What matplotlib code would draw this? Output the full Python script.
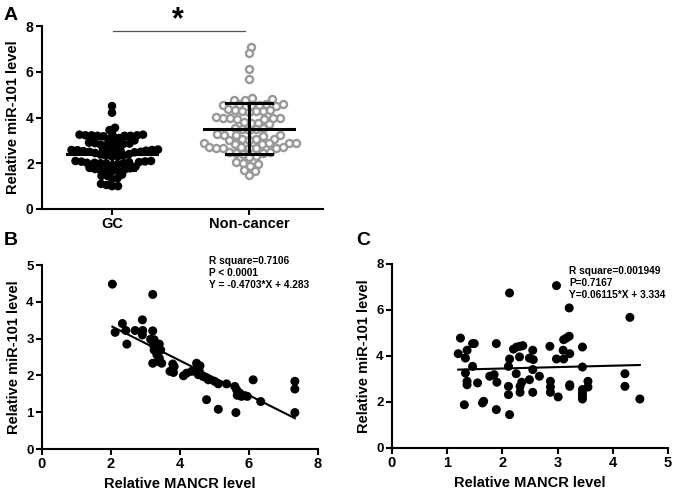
import numpy as np
import matplotlib
matplotlib.use("Agg")
import matplotlib.pyplot as plt

plt.rcParams['font.family'] = ['Liberation Sans', 'DejaVu Sans']
plt.rcParams['font.weight'] = 'bold'
plt.rcParams['axes.labelweight'] = 'bold'

# ---------------- Data ----------------
groups = ["GC", "Non-cancer"]
gc_values = [4.50, 4.21, 3.55, 3.45,
             3.25, 3.22, 3.20, 3.22, 3.25, 3.20, 3.22, 3.18, 3.24, 3.20,
             3.10, 3.05, 3.00, 2.98,
             2.90, 2.85, 2.82, 2.88, 2.75, 2.78, 2.86, 2.80,
             2.60, 2.58, 2.55, 2.52, 2.50, 2.55, 2.57, 2.48, 2.45, 2.50, 2.53, 2.56, 2.60, 2.58,
             2.40, 2.35, 2.30, 2.38, 2.33, 2.30,
             2.10, 2.08, 2.05, 2.02, 2.00, 1.98, 2.00, 2.05, 2.10, 2.07, 2.02, 1.96,
             1.90, 1.85, 1.80, 1.75, 1.72, 1.70, 1.68, 1.65, 1.70, 1.78,
             1.50, 1.45, 1.45, 1.35, 1.30,
             1.10, 1.05, 1.00, 1.00]
nc_values = [7.10, 6.80, 6.10, 5.70,
             4.85, 4.80, 4.78, 4.75,
             4.60, 4.55, 4.58, 4.55, 4.60, 4.52, 4.56,
             4.35, 4.30, 4.32, 4.28, 4.30, 4.25, 4.33,
             4.00, 3.98, 3.95, 4.00, 3.95, 3.98, 4.02,
             3.80, 3.75, 3.72, 3.78,
             3.55, 3.50, 3.48, 3.52, 3.45,
             3.28, 3.25, 3.22, 3.25, 3.20,
             3.05, 3.00, 3.08, 3.02, 3.05,
             2.90, 2.88, 2.85, 2.90, 2.88, 2.86,
             2.70, 2.68, 2.65, 2.70, 2.68, 2.66, 2.72, 2.65,
             2.48, 2.45, 2.42, 2.45, 2.48,
             2.30, 2.28,
             2.05, 2.00, 1.95, 1.90,
             1.70, 1.68,
             1.48]

b_x = [2.04, 3.21, 2.12, 2.33, 2.43, 2.46, 2.70, 2.91, 2.92, 2.91, 3.15, 3.21, 3.25, 3.23, 3.25,
       3.21, 3.33, 3.40, 3.44, 3.40, 3.47, 3.37, 3.71, 3.79, 3.83, 3.81, 4.10, 4.19, 4.34, 4.48,
       4.53, 4.56, 4.58, 4.53, 4.67, 4.77, 4.82, 4.77, 5.00, 5.11, 5.11, 5.35, 5.59, 5.64, 5.66,
       5.62, 5.73, 5.78, 5.88, 5.95, 6.12, 6.34, 7.33, 7.33, 7.33]
b_y = [4.48, 4.20, 3.17, 3.41, 3.22, 2.85, 3.22, 3.51, 3.22, 3.10, 2.98, 3.21, 2.97, 2.83, 2.69,
       2.33, 2.56, 2.85, 2.69, 2.47, 2.33, 2.38, 2.11, 2.31, 2.24, 2.08, 1.99, 2.06, 2.11, 2.33,
       2.19, 2.11, 2.26, 2.02, 1.97, 1.93, 1.88, 1.34, 1.84, 1.77, 1.08, 1.77, 1.70, 1.61, 1.46,
       0.99, 1.52, 1.43, 1.45, 1.43, 1.88, 1.29, 1.84, 1.63, 0.99]
b_fit = (-0.4703, 4.283)
b_text = "R square=0.7106\nP < 0.0001\nY = -0.4703*X + 4.283"

c_x = [1.20, 1.24, 1.33, 1.36, 1.33, 1.36, 1.36, 1.31, 1.46, 1.49, 1.46, 1.55, 1.64, 1.66, 1.77,
       1.85, 1.89, 1.90, 1.89, 2.13, 2.13, 2.11, 2.11, 2.11, 2.13, 2.20, 2.26, 2.25, 2.32, 2.37,
       2.31, 2.32, 2.35, 2.32, 2.49, 2.49, 2.55, 2.56, 2.55, 2.55, 2.67, 2.86, 2.87, 2.87, 2.87,
       2.98, 2.98, 3.01, 3.10, 3.11, 3.11, 3.16, 3.21, 3.21, 3.22, 3.22, 3.22, 3.45, 3.45, 3.45,
       3.45, 3.45, 3.45, 3.55, 3.55, 4.22, 4.22, 4.31, 4.49]
c_y = [4.10, 4.78, 3.91, 4.25, 3.26, 2.90, 2.75, 1.88, 4.54, 4.54, 3.55, 2.83, 1.96, 2.03, 3.12,
       3.19, 4.54, 2.86, 1.67, 6.74, 3.87, 3.55, 2.68, 2.32, 1.45, 4.30, 4.39, 3.23, 4.42, 4.45,
       3.96, 2.68, 2.86, 2.42, 2.97, 3.91, 4.25, 3.84, 3.41, 2.42, 3.12, 4.42, 2.90, 2.65, 2.42,
       7.06, 3.87, 2.22, 4.25, 4.71, 3.87, 4.78, 4.86, 6.09, 4.10, 2.75, 2.68, 4.39, 3.52, 2.54,
       2.39, 2.25, 2.13, 2.90, 2.65, 3.23, 2.68, 5.68, 2.13]
c_fit = (0.06115, 3.334)
c_text = "R square=0.001949\nP=0.7167\nY=0.06115*X + 3.334"

# ---------------- Figure ----------------
W, H = 677, 496
fig = plt.figure(figsize=(W / 100, H / 100), dpi=100)

def fx(px):
    return px / W

def fy(py):
    return 1 - py / H

def style_axes(ax, xsize=10.5, ysize=9.5):
    for s in ['top', 'right']:
        ax.spines[s].set_visible(False)
    for s in ['left', 'bottom']:
        ax.spines[s].set_linewidth(1.5)
    ax.tick_params(width=1.5, length=4, direction='out', pad=2)
    ax.tick_params(axis='x', labelsize=xsize)
    ax.tick_params(axis='y', labelsize=ysize)
    for lab in ax.get_xticklabels() + ax.get_yticklabels():
        lab.set_fontweight('bold')

def swarm(values, center, px_per_x, px_per_y, diam):
    vals = np.asarray(values, float)
    order = np.argsort(vals)
    placed = []
    xs = np.zeros(len(vals))
    for i in order:
        ypx = vals[i] * px_per_y
        best = None
        for k in range(0, 400):
            for sgn in ([1] if k == 0 else [1, -1]):
                off = sgn * k * 0.5
                ok = True
                for (px, py) in placed:
                    if (px - off) ** 2 + (py - ypx) ** 2 < diam ** 2:
                        ok = False
                        break
                if ok:
                    best = off
                    break
            if best is not None:
                break
        placed.append((best, ypx))
        xs[i] = center + best / px_per_x
    return xs

# ---------- Panel A ----------
axA = fig.add_axes([fx(42), fy(209), fx(323 - 42), (209 - 26) / H])
xlimA = (-0.511, 1.54)
axA.set_xlim(*xlimA)
axA.set_ylim(0, 8)
px_per_x = (323 - 42) / (xlimA[1] - xlimA[0])
px_per_y = (209 - 26) / 8.0

gx = swarm(gc_values, 0, px_per_x, px_per_y, 5.6)
nx = swarm(nc_values, 1, px_per_x, px_per_y, 7.0)
axA.scatter(gx, gc_values, s=38, color='black', edgecolors='none', zorder=2, clip_on=False)
axA.scatter(nx, nc_values, s=26, facecolors='white', edgecolors='#999999', linewidths=1.7,
            zorder=2, clip_on=False)

for i, vals in enumerate([gc_values, nc_values]):
    m = np.mean(vals)
    sd = np.std(vals, ddof=1)
    axA.plot([i - 0.33, i + 0.33], [m, m], color='black', lw=2.2, zorder=3)
    axA.plot([i, i], [m - sd, m + sd], color='black', lw=2.2, zorder=3)
    axA.plot([i - 0.165, i + 0.165], [m + sd, m + sd], color='black', lw=2.2, zorder=3)
    axA.plot([i - 0.165, i + 0.165], [m - sd, m - sd], color='black', lw=2.2, zorder=3)

axA.set_xticks([0, 1])
axA.set_xticklabels(groups)
axA.set_yticks([0, 2, 4, 6, 8])
axA.set_ylabel("Relative miR-101 level", fontsize=10.5, labelpad=4)
style_axes(axA, xsize=10.5, ysize=10)

# significance line and star
axA.plot([0.01, 0.97], [7.78, 7.78], color='#555555', lw=0.9, clip_on=False)
fig.text(fx(178), fy(20), "*", fontsize=22, fontweight='bold', ha='center', va='center')
fig.text(fx(4), fy(15), "A", fontsize=14, fontweight='bold', ha='left', va='center')

# ---------- Panel B ----------
axB = fig.add_axes([fx(42), fy(449), fx(318 - 42), (449 - 265) / H])
axB.set_xlim(0, 8)
axB.set_ylim(0, 5)
axB.scatter(b_x, b_y, s=42, color='black', edgecolors='none', zorder=2, clip_on=False)
xl = np.array([min(b_x), max(b_x)])
axB.plot(xl, b_fit[0] * xl + b_fit[1], color='black', lw=1.5, zorder=3)
axB.set_xticks([0, 2, 4, 6, 8])
axB.set_yticks([0, 1, 2, 3, 4, 5])
axB.set_xlabel("Relative MANCR level", fontsize=10.5, labelpad=4)
axB.set_ylabel("Relative miR-101 level", fontsize=10.5, labelpad=4)
style_axes(axB)
fig.text(fx(209), fy(256), b_text, fontsize=7.3, fontweight='bold', ha='left', va='top',
         linespacing=1.25)
fig.text(fx(4), fy(241), "B", fontsize=14, fontweight='bold', ha='left', va='center')

# ---------- Panel C ----------
axC = fig.add_axes([fx(392), fy(448), fx(668 - 392), (448 - 264) / H])
axC.set_xlim(0, 5)
axC.set_ylim(0, 8)
axC.scatter(c_x, c_y, s=42, color='black', edgecolors='none', zorder=2, clip_on=False)
xl = np.array([min(c_x), max(c_x)])
axC.plot(xl, c_fit[0] * xl + c_fit[1], color='black', lw=1.5, zorder=3)
axC.set_xticks([0, 1, 2, 3, 4, 5])
axC.set_yticks([0, 2, 4, 6, 8])
axC.set_xlabel("Relative MANCR level", fontsize=10.5, labelpad=4)
axC.set_ylabel("Relative miR-101 level", fontsize=10.5, labelpad=4)
style_axes(axC)
fig.text(fx(569), fy(266), c_text, fontsize=7.3, fontweight='bold', ha='left', va='top',
         linespacing=1.25)
fig.text(fx(356), fy(241), "C", fontsize=14, fontweight='bold', ha='left', va='center')

fig.savefig("out.png", dpi=100)
